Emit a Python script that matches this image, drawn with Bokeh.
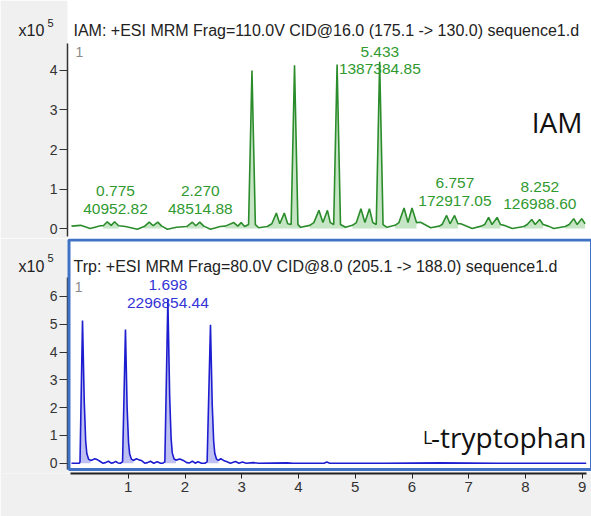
import numpy as np
from bokeh.plotting import figure
from bokeh.models import Range1d, FixedTicker, Label, BoxAnnotation, ColumnDataSource
from bokeh.layouts import column
from bokeh.core.properties import value
from bokeh.embed import file_html
from bokeh.resources import INLINE

# ---------------- data (intensities in units of 1e5 counts) ----------------
iam_rt = [0.00, 0.16, 0.33, 0.51, 0.56, 0.63, 0.70, 0.76, 0.83, 0.95,
          1.16, 1.28, 1.37, 1.44, 1.52, 1.59, 1.69, 1.85, 2.03, 2.13,
          2.19, 2.26, 2.33, 2.45, 2.62, 2.71, 2.86, 2.93, 2.99, 3.05,
          3.12, 3.18, 3.24, 3.30, 3.45, 3.53, 3.61, 3.67, 3.75, 3.81,
          3.87, 3.93, 3.99, 4.04, 4.20, 4.27, 4.36, 4.43, 4.51, 4.56,
          4.62, 4.68, 4.74, 4.83, 4.95, 5.02, 5.10, 5.17, 5.25, 5.31,
          5.37, 5.43, 5.49, 5.56, 5.70, 5.77, 5.86, 5.93, 6.00, 6.08,
          6.15, 6.33, 6.48, 6.53, 6.61, 6.67, 6.75, 6.81, 6.86, 7.06,
          7.22, 7.28, 7.35, 7.41, 7.50, 7.56, 7.62, 7.77, 7.97, 8.03,
          8.11, 8.17, 8.25, 8.31, 8.40, 8.50, 8.70, 8.77, 8.85, 8.91,
          8.99, 9.05]
iam_int = [0.06, 0.08, 0.00, 0.07, 0.07, 0.17, 0.08, 0.17, 0.07, 0.05,
           -0.02, 0.05, 0.16, 0.07, 0.16, 0.06, -0.02, 0.03, 0.05, 0.16,
           0.07, 0.16, 0.06, -0.02, 0.05, 0.06, 0.15, 0.06, 0.15, 0.05,
           0.10, 4.00, 0.10, 0.02, 0.05, 0.12, 0.39, 0.12, 0.39, 0.12,
           0.10, 4.13, 0.10, 0.03, 0.08, 0.15, 0.46, 0.15, 0.46, 0.15,
           0.10, 4.15, 0.10, 0.03, 0.08, 0.15, 0.50, 0.15, 0.50, 0.15,
           0.10, 4.22, 0.10, 0.03, 0.08, 0.15, 0.52, 0.15, 0.52, 0.15,
           0.16, 0.02, 0.06, 0.10, 0.33, 0.12, 0.33, 0.12, 0.12, 0.00,
           0.06, 0.10, 0.28, 0.10, 0.28, 0.10, 0.08, 0.00, 0.05, 0.10,
           0.23, 0.10, 0.23, 0.10, 0.06, 0.00, 0.05, 0.10, 0.25, 0.10,
           0.25, 0.12]

# integration windows of the IAM peaks
iam_win_start = [0.56, 1.28, 2.03, 2.71, 3.05, 3.45, 3.81, 4.20, 4.56, 4.95, 5.31, 5.70,
                 6.48, 7.22, 7.97, 8.70]
iam_win_end = [0.83, 1.59, 2.33, 3.05, 3.30, 3.81, 4.04, 4.56, 4.83, 5.31, 5.56, 6.08,
               6.81, 7.56, 8.31, 9.05]

trp_rt = [0.00, 0.14, 0.15, 0.194, 0.225, 0.25, 0.27, 0.30, 0.335, 0.37,
          0.41, 0.46, 0.50, 0.55, 0.60, 0.65, 0.70, 0.74, 0.78, 0.82,
          0.86, 0.90, 0.951, 0.98, 1.005, 1.025, 1.055, 1.09, 1.145, 1.19,
          1.23, 1.29, 1.34, 1.39, 1.45, 1.51, 1.57, 1.61, 1.645, 1.698,
          1.73, 1.755, 1.775, 1.805, 1.84, 1.91, 1.97, 2.03, 2.08, 2.13,
          2.18, 2.23, 2.29, 2.35, 2.39, 2.449, 2.48, 2.505, 2.525, 2.555,
          2.59, 2.63, 2.68, 2.74, 2.80, 2.89, 2.95, 3.01, 3.08, 3.20,
          3.30, 3.80, 3.90, 4.45, 4.50, 4.55, 5.50, 6.50, 7.50, 8.50,
          9.07]
trp_int = [0.00, 0.00, 0.05, 5.13, 2.20, 0.80, 0.35, 0.15, 0.10, 0.12,
           0.16, 0.12, 0.07, 0.00, 0.02, 0.07, 0.00, 0.02, 0.06, 0.01,
           0.00, 0.05, 4.81, 2.00, 0.75, 0.33, 0.15, 0.10, 0.16, 0.12,
           0.10, 0.00, 0.02, 0.07, 0.00, 0.05, 0.00, 0.00, 0.05, 5.90,
           2.40, 0.90, 0.38, 0.16, 0.11, 0.15, 0.10, 0.02, 0.01, 0.07,
           0.00, 0.05, 0.00, 0.00, 0.05, 4.98, 2.10, 0.80, 0.35, 0.15,
           0.10, 0.16, 0.10, 0.05, 0.00, 0.06, 0.00, 0.04, 0.00, 0.02,
           0.00, 0.01, 0.00, 0.00, 0.04, 0.00, 0.00, 0.01, 0.00, 0.00,
           0.00]

# integration windows of the Trp peaks
trp_win_start = [0.14, 0.90, 1.645, 2.39]
trp_win_end = [0.335, 1.09, 1.84, 2.59]

# annotated peaks (RT, area)
iam_peak_rt = [0.775, 2.270, 5.433, 6.757, 8.252]
iam_peak_area = [40952.82, 48514.88, 1387384.85, 172917.05, 126988.60]
trp_peak_rt = [1.698]
trp_peak_area = [2296854.44]

x_ticks = [1, 2, 3, 4, 5, 6, 7, 8, 9]
iam_y_ticks = [0, 1, 2, 3, 4]
trp_y_ticks = [0, 1, 2, 3, 4, 5, 6]

iam_title = "IAM: +ESI MRM Frag=110.0V CID@16.0 (175.1 -> 130.0) sequence1.d"
trp_title = "Trp: +ESI MRM Frag=80.0V CID@8.0 (205.1 -> 188.0) sequence1.d"

# ---------------- styling / layout ----------------
GREY = "#f0f0f0"
GREEN = "#2b8c2b"
GREEN_FILL = "#9fd49f"
GREEN_TXT = "#2f9a2f"
BLUE = "#1c1cd0"
BLUE_FILL = "#aeb0ee"
BLUE_TXT = "#3434d6"
FRAME_BLUE = "#3f72c4"
FONT = "Liberation Sans"

PXU = 56.75                 # pixels per minute
X0 = -71 / PXU              # canvas left edge
X1 = X0 + 591 / PXU         # canvas right edge
XA = X0 + 67 / PXU          # y-axis position

# label positions (y in panel units)
iam_lab_y1 = [0.954, 0.954, 4.48, 1.152, 1.058]
iam_lab_y2 = [0.506, 0.506, 4.05, 0.688, 0.613]
trp_lab_y1 = [6.41]
trp_lab_y2 = [5.755]


def style_yaxis(p, ticks, bounds):
    ax = p.yaxis[0]
    ax.fixed_location = XA
    ax.ticker = FixedTicker(ticks=ticks)
    ax.bounds = bounds
    ax.major_label_text_font = FONT
    ax.major_label_text_font_size = "14px"
    ax.major_label_text_color = "#333333"
    ax.major_tick_line_color = "#333333"
    ax.major_tick_out = 8
    ax.major_tick_in = 0
    ax.major_label_standoff = 2
    ax.minor_tick_line_color = None
    ax.axis_line_color = "#333333"
    ax.axis_line_width = 1.5


def add_text(p, x, y, txt, size, color, align="left", baseline="alphabetic", font=FONT):
    p.add_layout(Label(x=x, y=y, text=txt, text_font=font, text_font_size=size,
                       text_color=color, text_align=align, text_baseline=baseline))


def grey_strip(p):
    p.add_layout(BoxAnnotation(right=XA, fill_color=GREY, fill_alpha=1.0,
                               line_color=None, level="underlay"))


def window_patches(rt, inten, starts, ends):
    rt_a = np.array(rt)
    in_a = np.array(inten)
    xs, ys = [], []
    for s, e in zip(starts, ends):
        m = (rt_a >= s) & (rt_a <= e)
        xs.append(list(rt_a[m]) + [e, s])
        ys.append(list(np.maximum(in_a[m], 0.0)) + [0.0, 0.0])
    return xs, ys


# ---------------- top panel: IAM ----------------
p1 = figure(width=591, height=238, output_backend="svg", toolbar_location=None,
            x_range=Range1d(X0, X1), y_range=Range1d(-0.253, 5.772),
            x_axis_location=None, y_axis_location="left",
            min_border_left=0, min_border_right=0, min_border_top=0, min_border_bottom=0)
p1.title.visible = False
p1.border_fill_color = GREY
p1.background_fill_color = "white"
p1.outline_line_color = None
p1.grid.visible = False
grey_strip(p1)
style_yaxis(p1, iam_y_ticks, (-0.2, 4.68))

gx, gy = window_patches(iam_rt, iam_int, iam_win_start, iam_win_end)
p1.patches(xs=gx, ys=gy, fill_color=GREEN_FILL, fill_alpha=0.6, line_color=None)
p1.line(x=iam_rt, y=iam_int, line_color=GREEN, line_width=1.6)

iam_lab = ColumnDataSource(dict(
    x=iam_peak_rt, y1=iam_lab_y1, y2=iam_lab_y2,
    t1=["%.3f" % v for v in iam_peak_rt],
    t2=["%.2f" % v for v in iam_peak_area]))
for col in ("1", "2"):
    p1.text(x="x", y="y" + col, text="t" + col, source=iam_lab, text_font=value(FONT),
            text_font_size="15.5px", text_color=GREEN_TXT, text_align="center",
            text_baseline="middle")

add_text(p1, X0 + 73 / PXU, 5.013, iam_title, "16px", "#222222")
add_text(p1, X0 + 18 / PXU, 5.013, "x10", "16px", "#222222")
add_text(p1, X0 + 47 / PXU, 5.30, "5", "11px", "#222222", baseline="top")
add_text(p1, 0.07, 4.456, "1", "14px", "#8a8a8a", baseline="middle")
add_text(p1, 9.004, 2.69, "IAM", "28px", "#111111", align="right", font="Open Sans")

# ---------------- bottom panel: Trp ----------------
p2 = figure(width=591, height=278, output_backend="svg", toolbar_location=None,
            x_range=p1.x_range, y_range=Range1d(-0.3705, 8.083),
            x_axis_location="below", y_axis_location="left",
            min_border_left=0, min_border_right=0, min_border_top=0, min_border_bottom=43)
p2.title.visible = False
p2.border_fill_color = GREY
p2.background_fill_color = "white"
p2.outline_line_color = None
p2.grid.visible = False
grey_strip(p2)
style_yaxis(p2, trp_y_ticks, (-0.227, 6.68))

xa = p2.xaxis[0]
xa.ticker = FixedTicker(ticks=x_ticks)
xa.bounds = (-0.02, 9.07)
xa.major_label_text_font = FONT
xa.major_label_text_font_size = "15px"
xa.major_label_text_color = "#333333"
xa.major_tick_line_color = "#222222"
xa.major_tick_out = 5
xa.major_tick_in = 0
xa.major_label_standoff = 3
xa.minor_tick_line_color = None
xa.axis_line_color = "#222222"
xa.axis_line_width = 2

# grey strip between the blue pane frame and the x axis
p2.add_layout(BoxAnnotation(top=-0.30, fill_color=GREY, fill_alpha=1.0, line_color=None,
                            level="underlay"))
# blue frame of the selected pane
p2.add_layout(BoxAnnotation(left=XA + 1.5 / PXU, bottom=-0.227, top=8.03,
                            fill_alpha=0.0, line_color=FRAME_BLUE,
                            line_width=3, line_alpha=1.0))

bx, by = window_patches(trp_rt, trp_int, trp_win_start, trp_win_end)
p2.patches(xs=bx, ys=by, fill_color=BLUE_FILL, fill_alpha=0.8, line_color=None)
p2.line(x=trp_rt, y=trp_int, line_color=BLUE, line_width=1.6)

trp_lab = ColumnDataSource(dict(
    x=trp_peak_rt, y1=trp_lab_y1, y2=trp_lab_y2,
    t1=["%.3f" % v for v in trp_peak_rt],
    t2=["%.2f" % v for v in trp_peak_area]))
for col in ("1", "2"):
    p2.text(x="x", y="y" + col, text="t" + col, source=trp_lab, text_font=value(FONT),
            text_font_size="15.5px", text_color=BLUE_TXT, text_align="center",
            text_baseline="middle")

add_text(p2, X0 + 73 / PXU, 7.09, trp_title, "16px", "#222222")
add_text(p2, X0 + 18 / PXU, 7.09, "x10", "16px", "#222222")
add_text(p2, X0 + 47 / PXU, 7.53, "5", "11px", "#222222", baseline="top")
add_text(p2, 0.058, 6.34, "1", "14px", "#8a8a8a", baseline="middle")
add_text(p2, 9.075, 0.96, "-tryptophan", "28px", "#111111", align="right", font="Open Sans")
add_text(p2, 6.361, 0.96, "L", "18px", "#111111", align="right", font="Open Sans")

layout = column(p1, p2, spacing=0)
open("out.html", "w").write(file_html(layout, INLINE))
